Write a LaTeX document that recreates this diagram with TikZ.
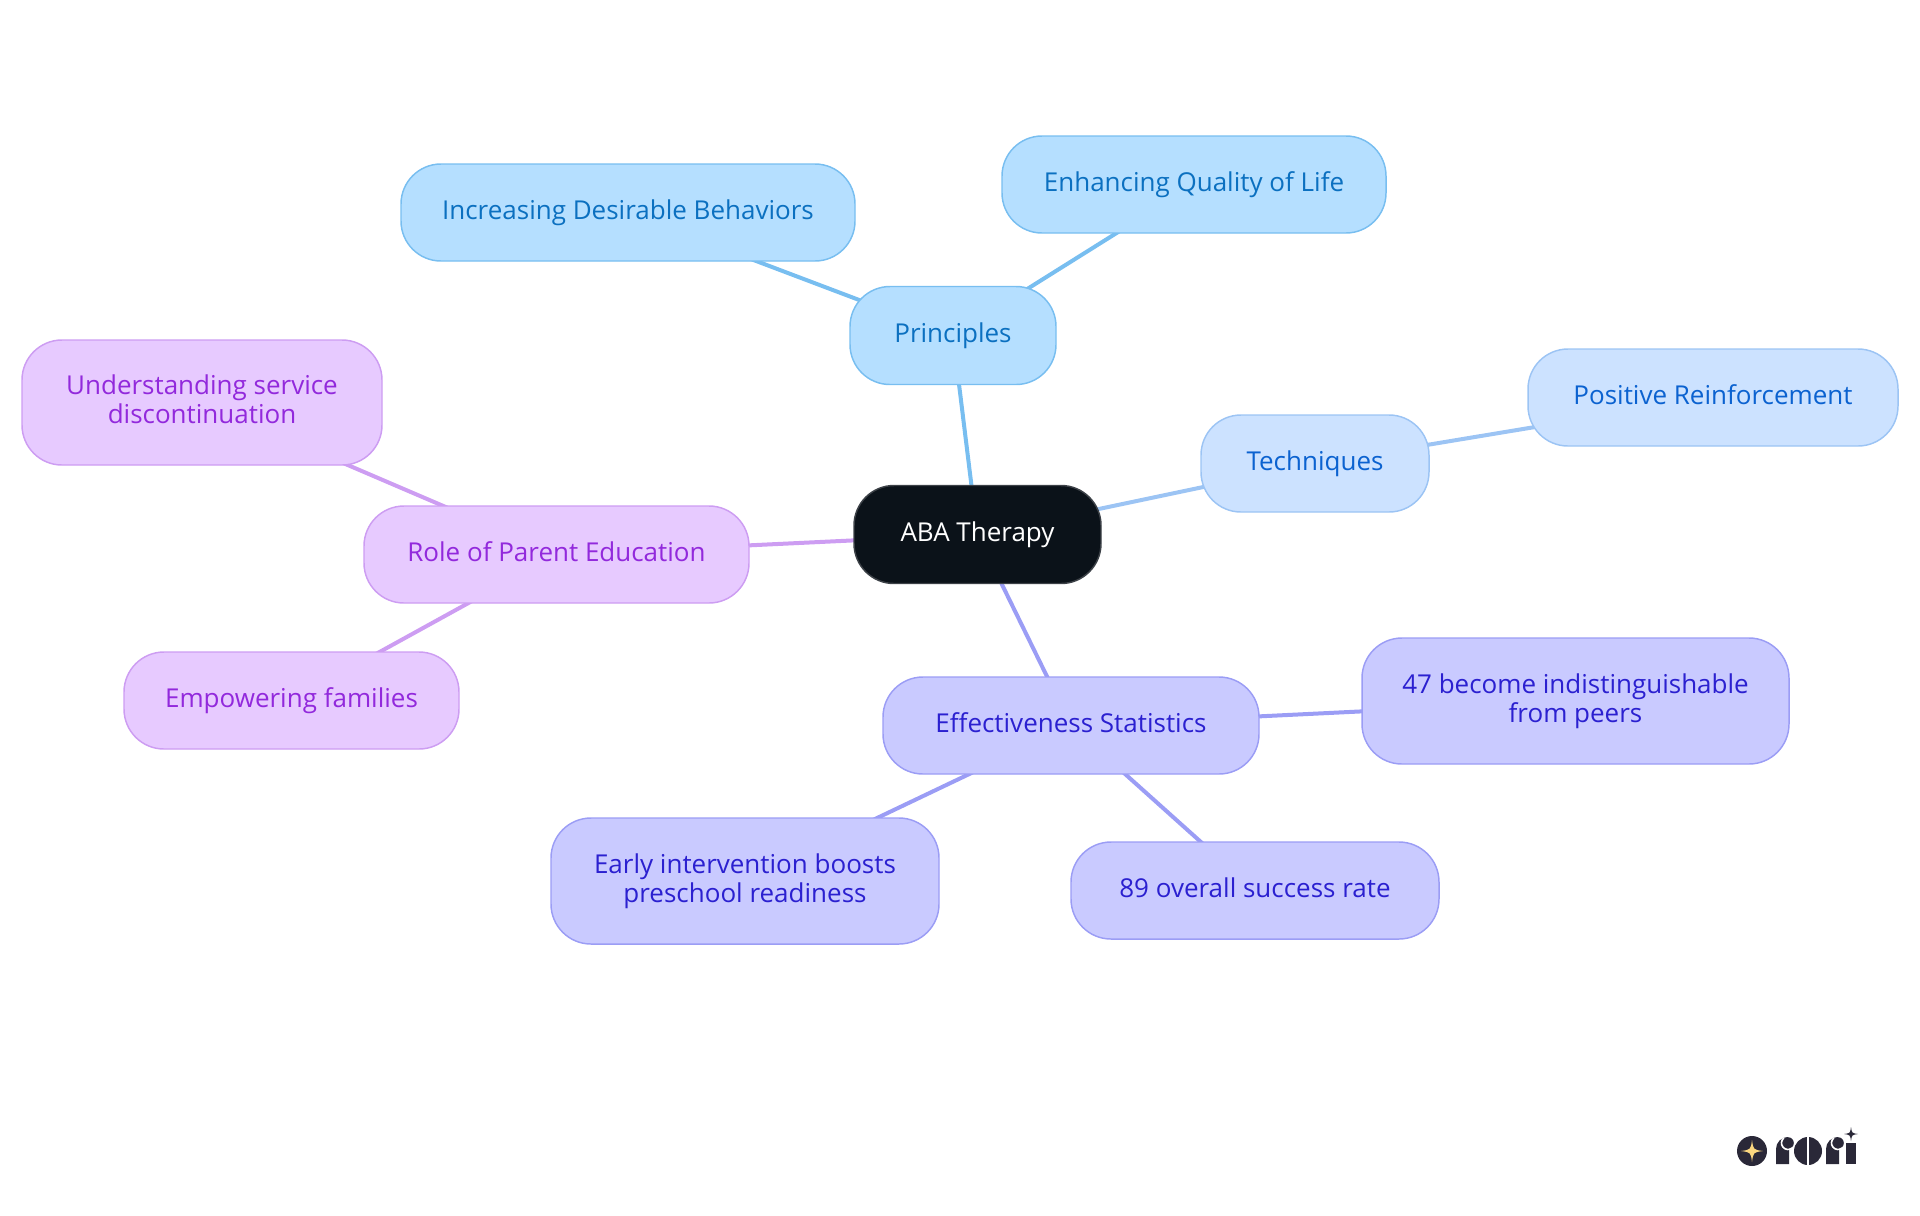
\documentclass[tikz,border=0pt]{standalone}
\usepackage{fontspec}
\setmainfont{Open Sans}
\usetikzlibrary{backgrounds}
\definecolor{blueA}{HTML}{B5DFFF}
\definecolor{blueAline}{HTML}{78BEF0}
\definecolor{blueAtext}{HTML}{0B70C0}
\definecolor{blueB}{HTML}{CCE2FF}
\definecolor{blueBline}{HTML}{9CC4F4}
\definecolor{blueBtext}{HTML}{0B62D0}
\definecolor{violetA}{HTML}{C9CAFF}
\definecolor{violetAline}{HTML}{9B9DF5}
\definecolor{violetAtext}{HTML}{2B20D0}
\definecolor{purpleA}{HTML}{E7CAFF}
\definecolor{purpleAline}{HTML}{CD9DF2}
\definecolor{purpleAtext}{HTML}{9229DC}
\definecolor{rootfill}{HTML}{0B1219}
\definecolor{logodark}{HTML}{2A2838}
\definecolor{logostar}{HTML}{FBD77F}
\newcommand{\bubblestrut}{\rule[-4.8pt]{0pt}{18pt}}
\tikzset{
    bubble/.style={draw, line width=1.1pt, rounded corners=30pt, inner sep=0pt, align=center,
      font=\fontsize{19.5}{22}\selectfont,
      execute at begin node=\bubblestrut, execute at end node=\bubblestrut},
    nodesize/.style 2 args={minimum width=#1*0.75pt, minimum height=#2*0.75pt},
    root/.style={bubble, fill=rootfill, draw=rootfill!80!white, text=white},
    principle/.style={bubble, fill=blueA, draw=blueAline, text=blueAtext},
    technique/.style={bubble, fill=blueB, draw=blueBline, text=blueBtext},
    statistic/.style={bubble, fill=violetA, draw=violetAline, text=violetAtext},
    parent/.style={bubble, fill=purpleA, draw=purpleAline, text=purpleAtext}}
\newcommand{\sparkle}[4]{%
  \fill[#4, shift={(#1,#2)}] (0,-#3) .. controls (0.12*#3,-0.12*#3) .. (#3,0)
    .. controls (0.12*#3,0.12*#3) .. (0,#3) .. controls (-0.12*#3,0.12*#3) .. (-#3,0)
    .. controls (-0.12*#3,-0.12*#3) .. cycle;}
\newcommand{\logor}[1]{%
  \fill[logodark, shift={(#1,0)}] (0,1164) -- (0,1149) arc (180:270:12) -- (13,1150) -- (13,1164) -- cycle;
  \fill[logodark, shift={(#1,0)}] (12,1143) circle (5.8);
  \draw[white, line width=1.2pt, shift={(#1,0)}] (7.8,1138) arc (230:50:6.5);}

\begin{document}
\begin{tikzpicture}[x=0.75pt, y=-0.75pt]
    \useasboundingbox (0,0) rectangle (1920,1215);
    % centre
    \node[root, nodesize={247}{98}] (aba) at (977.5,534.5) {ABA Therapy};
    % top branch
    \node[principle, nodesize={206}{98}] (principles) at (953,335.5) {Principles};
    \node[principle, nodesize={454}{97}] (increasing) at (628,212.5) {Increasing Desirable Behaviors};
    \node[principle, nodesize={384}{97}] (quality) at (1194,184.5) {Enhancing Quality of Life};
    % right branch
    \node[technique, nodesize={228}{97}] (techniques) at (1315,463.5) {Techniques};
    \node[technique, nodesize={370}{97}] (reinforcement) at (1713,397.5) {Positive Reinforcement};
    % lower branch
    \node[statistic, nodesize={376}{97}] (statistics) at (1071,725.5) {Effectiveness Statistics};
    \node[statistic, nodesize={427}{126}] (peers) at (1575.5,701) {47 become indistinguishable\\from peers};
    \node[statistic, nodesize={388}{126}] (early) at (745,881) {Early intervention boosts\\preschool readiness};
    \node[statistic, nodesize={368}{97}] (success) at (1255,890.5) {89 overall success rate};
    % left branch
    \node[parent, nodesize={385}{97}] (role) at (556.5,554.5) {Role of Parent Education};
    \node[parent, nodesize={360}{125}] (service) at (202,402.5) {Understanding service\\discontinuation};
    \node[parent, nodesize={335}{97}] (families) at (291.5,700.5) {Empowering families};
    % connectors
    \begin{scope}[on background layer]
      \foreach \a/\b/\c in {aba/principles/blueAline, principles/increasing/blueAline,
          principles/quality/blueAline, aba/techniques/blueBline, techniques/reinforcement/blueBline,
          aba/statistics/violetAline, statistics/peers/violetAline, statistics/early/violetAline,
          statistics/success/violetAline, aba/role/purpleAline, role/service/purpleAline,
          role/families/purpleAline}
        \draw[\c, line width=3pt] (\a.center) -- (\b.center);
    \end{scope}
    % logo
    \fill[logodark] (1752,1151) circle (15);
    \sparkle{1752}{1151}{11}{logostar}
    \logor{1776}
    \fill[logodark] (1808,1151) circle (14);
    \fill[white] (1807.2,1136) rectangle (1808.8,1166);
    \logor{1826}
    \fill[logodark] (1846,1143) rectangle (1856,1164);
    \sparkle{1851}{1134}{7}{logodark}
\end{tikzpicture}
\end{document}
